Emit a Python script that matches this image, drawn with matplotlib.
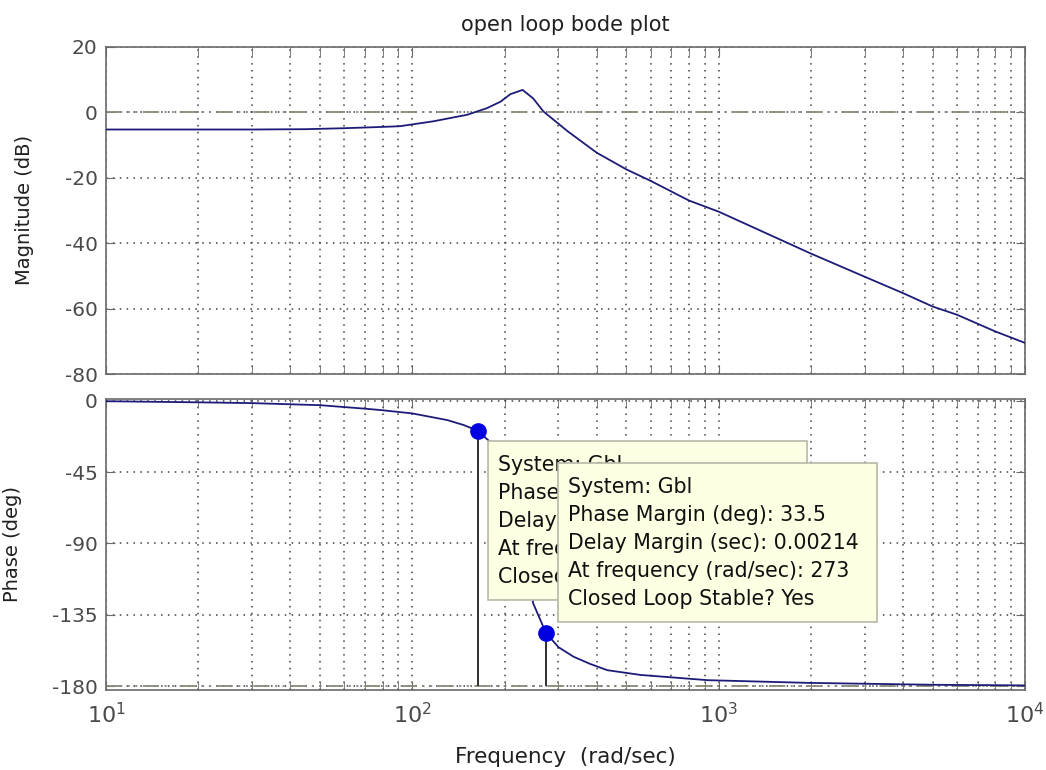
import matplotlib
matplotlib.use('Agg')
import matplotlib.pyplot as plt
import numpy as np
from matplotlib.patches import Rectangle

plt.rcParams['font.family'] = ['DejaVu Sans']
plt.rcParams['axes.unicode_minus'] = False

# magnitude curve (rad/sec, dB)
mag_freq = [10, 20, 30, 45, 60, 75, 91, 117, 151, 175, 194, 209, 229, 248, 268, 321, 400,
            500, 600, 800, 1000, 2000, 3000, 4000, 5000, 6000, 8000, 10000]
mag_db = [-5.3, -5.3, -5.3, -5.2, -4.9, -4.6, -4.3, -2.8, -0.8, 1.2, 3.2, 5.5, 6.8, 4.2, 0.2, -5.8, -12.4,
          -17.5, -21.0, -27.0, -30.4, -43.2, -50.3, -55.3, -59.4, -61.9, -67.0, -70.5]

# phase curve (rad/sec, deg)
phase_freq = [10, 20, 30, 50, 70, 79, 100, 130, 147, 164, 180, 200, 215, 229, 240, 248, 273,
              300, 336, 380, 433, 556, 920, 1954, 5000, 10000]
phase_deg = [-0.3, -1.0, -1.5, -2.8, -5.0, -5.9, -8.0, -12.2, -15.3, -19.0, -26.3, -41.4, -62.3, -90.0,
             -111.3, -127.8, -146.5, -155.5, -161.5, -166.0, -170.0, -173.0, -176.3, -178.0, -179.2, -179.6]

# phase margin data tips
pm_freq = [164, 273]
pm_phase = [-19.0, -146.5]
tip_text = [
    ["System: Gbl", "Phase Margin (deg): 161", "Delay Margin (sec): 0.0172",
     "At frequency (rad/sec): 164", "Closed Loop Stable? Yes"],
    ["System: Gbl", "Phase Margin (deg): 33.5", "Delay Margin (sec): 0.00214",
     "At frequency (rad/sec): 273", "Closed Loop Stable? Yes"],
]

mag_ticks = [20, 0, -20, -40, -60, -80]
phase_ticks = [0, -45, -90, -135, -180]
decades = [1, 2, 3, 4]

W, H = 1046, 770
fig = plt.figure(figsize=(W / 100, H / 100), dpi=100)


def px(x, y):
    # pixel (from top-left) -> figure fraction
    return x / W, 1 - y / H


line_col = '#1c1c78'
ref_col = '#8a8a78'
spine_col = '#6a6a6a'
lab_col = '#4a4a4a'
txt_col = '#202020'
grid_ls = (0, (1, 3.5))

ax1 = fig.add_axes([106 / W, 1 - 374 / H, 919 / W, (374 - 46.7) / H])
ax2 = fig.add_axes([106 / W, 1 - 690 / H, 919 / W, 291 / H])

for ax in (ax1, ax2):
    ax.set_xscale('log')
    ax.set_xlim(10, 1e4)
    ax.grid(True, which='major', linestyle=grid_ls, color='#404040', linewidth=1.1)
    ax.grid(True, which='minor', axis='x', linestyle=grid_ls, color='#404040', linewidth=1.1)
    ax.tick_params(which='both', direction='in', top=True, right=True, length=6.5,
                   color=spine_col, labelcolor=lab_col, labelsize=14.5, pad=6)
    for s in ax.spines.values():
        s.set_color(spine_col)
        s.set_linewidth(1.2)

ax1.plot(mag_freq, mag_db, color=line_col, lw=1.3, zorder=3)
ax1.axhline(0, color=ref_col, lw=1.3, dashes=[9, 3, 1.2, 3, 1.2, 3], zorder=2)
ax1.set_ylim(-80, 20)
ax1.set_yticks(mag_ticks)
ax1.tick_params(axis='x', which='both', labelbottom=False)
ax1.set_ylabel('Magnitude (dB)', fontsize=14, color=txt_col)
ax1.yaxis.set_label_coords(-0.078, 0.5)
ax1.set_title('open loop bode plot', fontsize=15, color=txt_col, pad=11)

ax2.plot(phase_freq, phase_deg, color=line_col, lw=1.3, zorder=3)
ax2.axhline(-180, color=ref_col, lw=1.3, dashes=[9, 3, 1.2, 3, 1.2, 3], zorder=2)
ax2.vlines(pm_freq, -180, pm_phase, color='#303030', lw=1.4, zorder=4)
ax2.plot(pm_freq, pm_phase, 'o', color='#0000e0', ms=11, zorder=5)
ax2.set_ylim(-182.5, 1.1)
ax2.set_yticks(phase_ticks)
ax2.set_xticks([10.0 ** d for d in decades])
ax2.set_xticklabels([r'$\mathregular{10^{%d}}$' % d for d in decades])
ax2.tick_params(axis='x', which='major', labelsize=16, pad=9)
ax2.tick_params(axis='x', which='minor', labelbottom=False)
ax2.set_ylabel('Phase (deg)', fontsize=14, color=txt_col)
ax2.yaxis.set_label_coords(-0.0914, 0.5)
ax2.set_xlabel('Frequency  (rad/sec)', fontsize=15.5, color=txt_col)
ax2.xaxis.set_label_coords(0.5, -0.197)

# data tip boxes (pixel boxes from the picture); back box text is hidden by the front one
boxes = [(488, 440.7, 807, 600), (558, 462.7, 877, 621.7)]
for k, (x0, y0, x1, y1) in enumerate(boxes):
    fx0, fy1 = px(x0, y1)
    fx1, fy0 = px(x1, y0)
    ax2.add_patch(Rectangle((fx0, fy1), fx1 - fx0, fy0 - fy1, transform=fig.transFigure,
                            facecolor='#ffffe4', edgecolor='#b8b8a8', lw=1.2,
                            clip_on=False, zorder=6 + 2 * k))
    if k == 0:
        # only the strip left of the front box stays visible
        cx1, _ = px(boxes[1][0], 0)
        clip = Rectangle((fx0, fy1), cx1 - fx0, fy0 - fy1, transform=fig.transFigure)
    else:
        clip = None
    for i, s in enumerate(tip_text[k]):
        tx, ty = px(x0 + 9.5, y0 + 24 + 28 * i)
        t = ax2.text(tx, ty, s, transform=fig.transFigure, fontsize=14.8, color='#101010',
                     va='center', ha='left', zorder=7 + 2 * k)
        if clip is not None:
            t.set_clip_path(clip)
        else:
            t.set_clip_on(False)

fig.savefig('out.png', dpi=100)
